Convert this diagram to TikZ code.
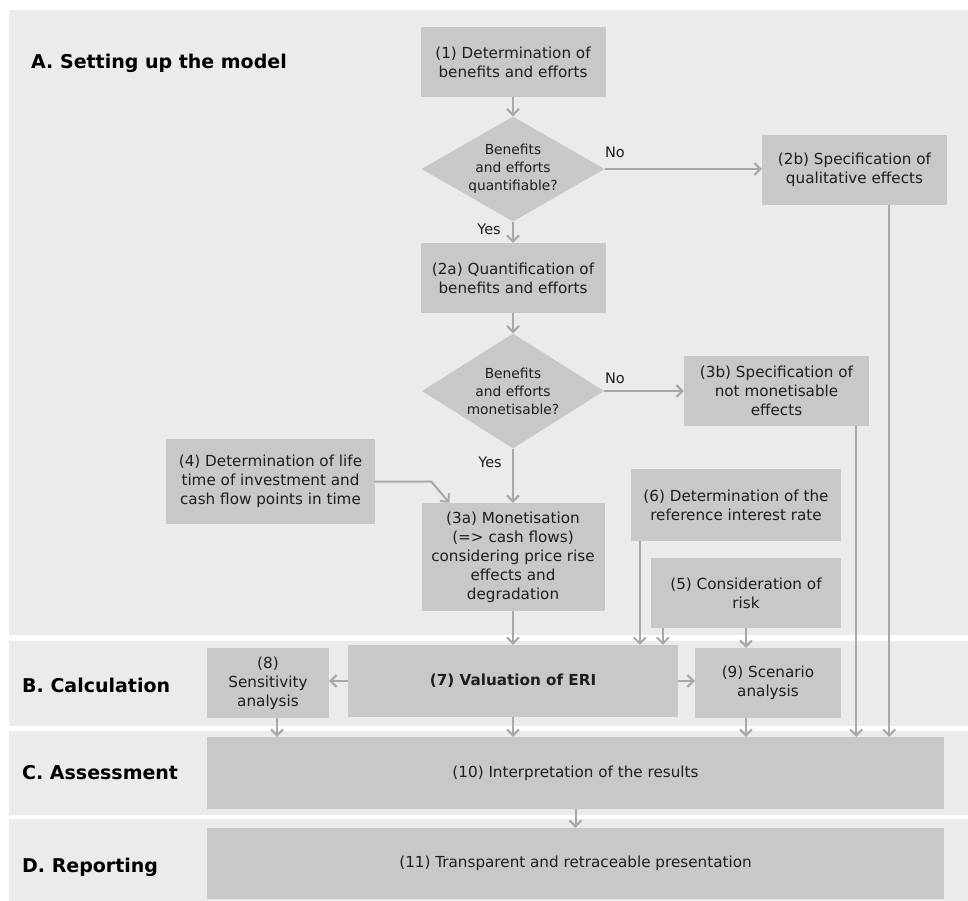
\documentclass[tikz,border=0pt]{standalone}
\usepackage{fontspec}
\setmainfont{DejaVu Sans}
\usetikzlibrary{shapes.geometric,arrows.meta}
\definecolor{bandgray}{HTML}{EBEBEB}
\definecolor{boxgray}{HTML}{C8C8C8}
\definecolor{linegray}{HTML}{A8A8A8}
\definecolor{textgray}{HTML}{1E1E1E}

\begin{document}
\begin{tikzpicture}[x=1pt,y=-1pt,
  box/.style={fill=boxgray,inner sep=0pt,align=center,text=textgray,font=\fontsize{15.2}{19}\selectfont},
  decision/.style={diamond,fill=boxgray,inner sep=0pt},
  dtext/.style={align=center,text=textgray,font=\fontsize{13.8}{18}\selectfont},
  answer/.style={text=textgray,font=\fontsize{14.5}{18}\selectfont},
  phase/.style={anchor=west,inner sep=0pt,text=black,font=\fontsize{19}{22}\selectfont\bfseries},
  flow/.style={draw=linegray,line width=2pt,-{Straight Barb[length=6pt,width=12pt]}}]
        \useasboundingbox (0,0) rectangle (968,901);
        \fill[bandgray] (9,10) rectangle (968,635);
        \fill[bandgray] (9,641) rectangle (968,726);
        \fill[bandgray] (9,731) rectangle (968,815);
        \fill[bandgray] (9,819) rectangle (968,901);
        \node[phase] (phaseA) at (31,63) {A. Setting up the model};
        \node[phase] (phaseB) at (22,685) {B. Calculation};
        \node[phase] (phaseC) at (22,773) {C. Assessment};
        \node[phase] (phaseD) at (22,867) {D. Reporting};
        \node[box,minimum width=185,minimum height=70] (n1) at (513,62) {(1) Determination of\\benefits and efforts};
        \node[decision,minimum width=183,minimum height=105] (d1) at (513,169) {};
        \node[dtext] (d1t) at (d1) {Benefits\\and efforts\\quantifiable?};
        \node[box,minimum width=185,minimum height=70] (n2b) at (854.5,170) {(2b) Specification of\\qualitative effects};
        \node[box,minimum width=185,minimum height=70] (n2a) at (513,278) {(2a) Quantification of\\benefits and efforts};
        \node[decision,minimum width=182,minimum height=115] (d2) at (513,391) {};
        \node[dtext] (d2t) at (d2) {Benefits\\and efforts\\monetisable?};
        \node[box,minimum width=185,minimum height=70] (n3b) at (776.5,391) {(3b) Specification of\\not monetisable\\effects};
        \node[box,minimum width=209,minimum height=85] (n4) at (270.5,481.5) {(4) Determination of life\\time of investment and\\cash flow points in time};
        \node[box,minimum width=183,minimum height=108] (n3a) at (513,557) {(3a) Monetisation\\(=> cash flows)\\considering price rise\\effects and\\degradation};
        \node[box,minimum width=210,minimum height=72] (n6) at (736,505) {(6) Determination of the\\reference interest rate};
        \node[box,minimum width=190,minimum height=70] (n5) at (746,593) {(5) Consideration of\\risk};
        \node[box,minimum width=330,minimum height=72] (n7) at (513,681) {\bfseries (7) Valuation of ERI};
        \node[box,minimum width=122,minimum height=70] (n8) at (268,683) {(8)\\Sensitivity\\analysis};
        \node[box,minimum width=146,minimum height=70] (n9) at (768,683) {(9) Scenario\\analysis};
        \node[box,minimum width=737,minimum height=72] (n10) at (575.5,773) {(10) Interpretation of the results};
        \node[box,minimum width=737,minimum height=71] (n11) at (575.5,863.5) {(11) Transparent and retraceable presentation};
        \node[answer] (no1) at (615,152) {No};
        \node[answer] (yes1) at (489,229) {Yes};
        \node[answer] (no2) at (615,378) {No};
        \node[answer] (yes2) at (490,462) {Yes};
        \coordinate (s6) at ([xshift=9]n6.south west);
        \coordinate (s5) at ([xshift=12]n5.south west);
        \coordinate (s8) at ([xshift=9]n8.south);
        \coordinate (s9) at (n5.south |- n9.south);
        \coordinate (s3b) at ([xshift=-13]n3b.south east);
        \coordinate (s2b) at ([xshift=-58]n2b.south east);
        \draw[flow] (n1) -- (d1);
        \draw[flow] (d1.east) -- (d1.east -| n2b.west);
        \draw[flow] (d1) -- (n2a);
        \draw[flow] (n2a) -- (d2);
        \draw[flow] (d2.east) -- (d2.east -| n3b.west);
        \draw[flow] (d2.south) -- (d2.south |- n3a.north);
        \draw[flow] (n4.east) -- ++(56,0) -- ([xshift=28]n3a.north west);
        \draw[flow] (n3a) -- (n7);
        \draw[flow] (s6) -- (s6 |- n7.north);
        \draw[flow] (s5) -- (s5 |- n7.north);
        \draw[flow] (n5.south) -- (n5.south |- n9.north);
        \draw[flow] (n7.west) -- (n7.west -| n8.east);
        \draw[flow] (n7.east) -- (n7.east -| n9.west);
        \draw[flow] (s8) -- (s8 |- n10.north);
        \draw[flow] (n7.south) -- (n7.south |- n10.north);
        \draw[flow] (s9) -- (s9 |- n10.north);
        \draw[flow] (s3b) -- (s3b |- n10.north);
        \draw[flow] (s2b) -- (s2b |- n10.north);
        \draw[flow] (n10) -- (n11);
      \end{tikzpicture}
\end{document}
